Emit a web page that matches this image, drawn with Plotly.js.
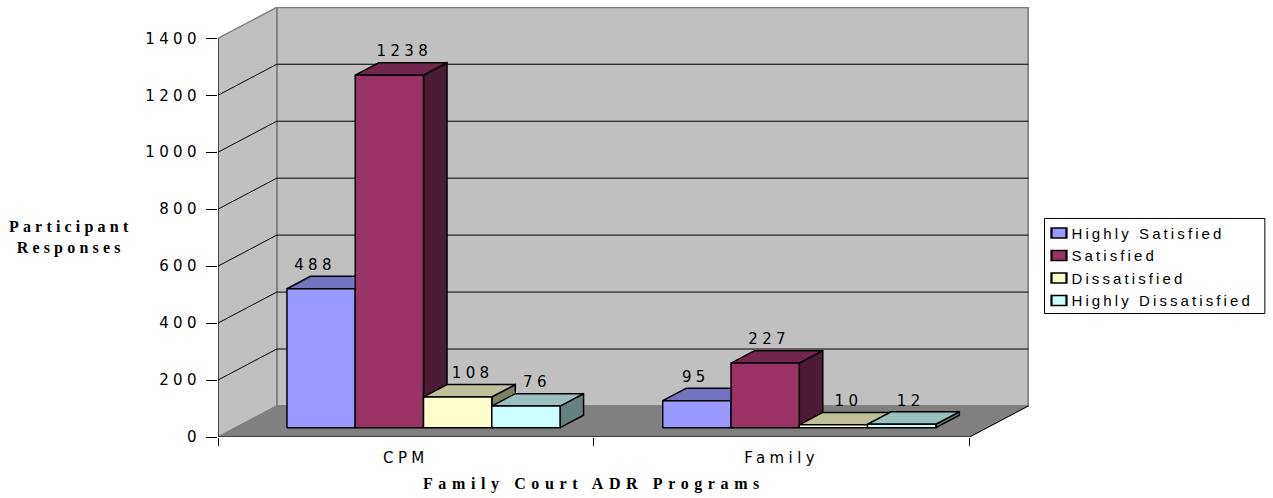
<!DOCTYPE html>
<html>
<head>
<meta charset="utf-8">
<script src="https://cdn.plot.ly/plotly-3.0.1.min.js"></script>
<style>
html,body{margin:0;padding:0;background:#fff;overflow:hidden}
#chart{width:1273px;height:498px}
.xtick text,.ytick text,.textpoint text{letter-spacing:4.4px}
.legendtext{letter-spacing:3.1px}
.annotation[data-index="0"] text{letter-spacing:4.2px}
.annotation[data-index="1"] text{letter-spacing:5.6px}
.legend .legendpoints{transform:translateX(-2.5px) scale(1.5,1)}
</style>
</head>
<body>
<div id="chart"></div>
<script>
// ---- data ----
const categories = ['CPM', 'Family'];
const seriesNames = ['Highly Satisfied', 'Satisfied', 'Dissatisfied', 'Highly Dissatisfied'];
const highlySatisfied = [488, 95];
const satisfied = [1238, 227];
const dissatisfied = [108, 10];
const highlyDissatisfied = [76, 12];
const yTicks = [0, 200, 400, 600, 800, 1000, 1200, 1400];
const frontColors = ['#9999FF', '#993366', '#FFFFCC', '#CCFFFF'];
const topColors = ['#7373BF', '#73264D', '#BFBF99', '#99BFBF'];
const sideColors = ['#4D4D80', '#4D1A33', '#808066', '#668080'];

// ---- oblique projection set-up (pixels of the reference frame) ----
const L = 217.5, R = 1029, B = 436.7, T = 7, W = 1273, H = 498;
const pxPerCat = 376, pxPerUnit = 398.4 / 1400;
const depthX = 58.8 / pxPerCat, depthY = 31 / pxPerUnit;
const barW = 0.1817, gap = 0.1366;        // in category widths
const d0 = 0.30, d1 = 0.70;               // bar depth span within the floor
const yMax = yTicks[yTicks.length - 1];
const P = (x, v, d) => [x + d * depthX, v + d * depthY];
const paperX = px => (px - L) / (R - L);
const paperY = py => (B - py) / (B - T);

// one face = a filled polygon, followed by its outline as an unfilled closed line
function face(pts, fill, lineColor, lineWidth) {
  const c = pts.concat([pts[0]]);
  const x = c.map(p => p[0]), y = c.map(p => p[1]);
  return [
    {type: 'scatter', mode: 'none', x, y, fill: 'toself', fillcolor: fill,
     hoverinfo: 'skip', showlegend: false, cliponaxis: false},
    {type: 'scatter', mode: 'lines', x, y, line: {color: lineColor, width: lineWidth, simplify: false},
     hoverinfo: 'skip', showlegend: false, cliponaxis: false}
  ];
}
function lines(segs, color, width) {
  const x = [], y = [];
  segs.forEach(s => { s.forEach(p => { x.push(p[0]); y.push(p[1]); }); x.push(null); y.push(null); });
  return {type: 'scatter', mode: 'lines', x, y, line: {color, width, simplify: false}, hoverinfo: 'skip',
    showlegend: false, cliponaxis: false};
}

const nCat = categories.length;
const traces = [];
// walls and floor
traces.push(...face([P(0,0,1), P(nCat,0,1), P(nCat,yMax,1), P(0,yMax,1)], '#C0C0C0', '#808080', 2));
traces.push(...face([P(0,0,0), P(0,0,1), P(0,yMax,1), P(0,yMax,0)], '#C0C0C0', '#808080', 1.5));
traces.push(...face([P(0,0,0), P(nCat,0,0), P(nCat,0,1), P(0,0,1)], '#808080', '#808080', 1));
// gridlines
const inner = yTicks.slice(1, -1);
traces.push(lines(inner.map(v => [P(0,v,0), P(0,v,1), P(nCat,v,1)]), '#000', 1));
traces.push(lines([[P(0,0,0), P(0,yMax,0)], [P(0,0,0), P(nCat,0,0), P(nCat,0,1)]], '#000', 1));

// bars, painted left to right
const seriesValues = [highlySatisfied, satisfied, dissatisfied, highlyDissatisfied];
for (let c = 0; c < nCat; c++) {
  seriesValues.forEach((vals, s) => {
    const v = vals[c], x0 = c + gap + s * barW, x1 = x0 + barW;
    traces.push(...face([P(x1,0,d0), P(x1,0,d1), P(x1,v,d1), P(x1,v,d0)], sideColors[s], '#000', 1.5));
    traces.push(...face([P(x0,v,d0), P(x1,v,d0), P(x1,v,d1), P(x0,v,d1)], topColors[s], '#000', 1.5));
    traces.push(...face([P(x0,0,d0), P(x1,0,d0), P(x1,v,d0), P(x0,v,d0)], frontColors[s], '#000', 1.5));
  });
}

// value labels: placed just above each bar, with a small per-label drift (px)
const labelDrift = [[-6, 15, 15, 11], [-1, 4, 15, 9]];
const lx = [], ly = [], lt = [];
for (let c = 0; c < nCat; c++) {
  seriesValues.forEach((vals, s) => {
    const v = vals[c];
    const p = P(c + gap + (s + 0.5) * barW, v, d0);
    lx.push(p[0] + labelDrift[c][s] / pxPerCat);
    ly.push(p[1] + 22.5 / pxPerUnit);
    lt.push(String(v));
  });
}
traces.push({type: 'scatter', mode: 'text', x: lx, y: ly, text: lt, textposition: 'middle center',
  textfont: {family: 'DejaVu Sans', size: 15, color: '#000'}, hoverinfo: 'skip',
  showlegend: false, cliponaxis: false});

// legend entries
seriesNames.forEach((n, s) => {
  traces.push({type: 'scatter', mode: 'markers', name: n, x: [null], y: [null],
    marker: {symbol: 'square', size: 10, color: frontColors[s], line: {color: '#000', width: 1.5}},
    hoverinfo: 'skip'});
});

const layout = {
  width: W, height: H,
  margin: {l: L, r: W - R, t: T, b: H - B, pad: 0},
  paper_bgcolor: '#fff', plot_bgcolor: 'rgba(0,0,0,0)',
  showlegend: true,
  legend: {x: paperX(1031.5), xref: 'paper', xanchor: 'left', y: paperY(216.5), yanchor: 'top',
    bgcolor: 'rgba(0,0,0,0)', borderwidth: 0, itemclick: false, itemdoubleclick: false,
    font: {family: 'Liberation Sans', size: 15, color: '#000'}},
  xaxis: {
    range: [0, (R - L) / pxPerCat], showgrid: false, zeroline: false, showline: false,
    tickmode: 'array', tickvals: categories.map((_, i) => i + 0.5), ticktext: categories,
    ticks: '', ticklen: 0,
    tickfont: {family: 'DejaVu Sans', size: 15, color: '#000'},
    ticklabelstandoff: 10,
    minor: {tickmode: 'array', tickvals: [0, 1, 2], ticks: 'outside', ticklen: 8, tickwidth: 1, tickcolor: '#000', showgrid: false}
  },
  yaxis: {
    range: [0, (B - T) / pxPerUnit], showgrid: false, zeroline: false, showline: false,
    tickmode: 'array', tickvals: yTicks, ticktext: yTicks.map(String),
    ticks: 'outside', ticklen: 11, tickwidth: 1, tickcolor: '#000', ticklabelstandoff: 2,
    tickfont: {family: 'DejaVu Sans', size: 15, color: '#000'}
  },
  shapes: [{type: 'rect', xref: 'paper', yref: 'paper',
    x0: paperX(1044.5), x1: paperX(1265), y0: paperY(313.3), y1: paperY(218.3),
    line: {color: '#000', width: 1}, fillcolor: '#fff', layer: 'below'}],
  annotations: [
    {xref: 'paper', yref: 'paper', x: paperX(70.5), y: paperY(237.5), xanchor: 'center', yanchor: 'middle',
     showarrow: false, align: 'center', text: '<b>Participant<br>Responses</b>',
     font: {family: 'Liberation Serif', size: 16, color: '#000'}},
    {xref: 'paper', yref: 'paper', x: paperX(593.5), y: paperY(484), xanchor: 'center', yanchor: 'middle',
     showarrow: false, text: '<b>Family Court ADR Programs</b>',
     font: {family: 'Liberation Serif', size: 16, color: '#000'}}
  ]
};
Plotly.newPlot('chart', traces, layout, {displayModeBar: false});
</script>
</body>
</html>
